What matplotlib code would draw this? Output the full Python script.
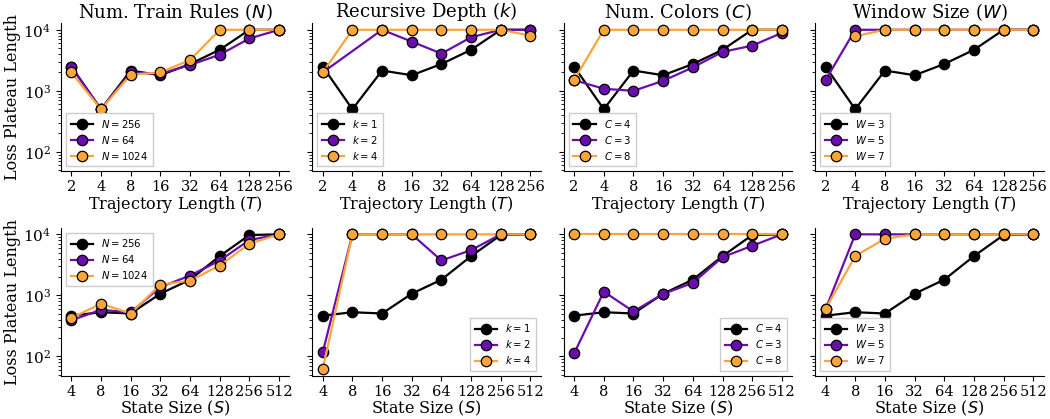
import matplotlib
matplotlib.use("Agg")
import matplotlib.pyplot as plt
import numpy as np

# ---------------- data ----------------
traj_labels = ["2", "4", "8", "16", "32", "64", "128", "256"]
state_labels = ["4", "8", "16", "32", "64", "128", "256", "512"]

# default configuration (N=256, k=1, C=4, W=3)
default_T = [2500, 500, 2150, 1800, 2750, 4700, 10000, 10000]
default_S = [465, 530, 505, 1065, 1810, 4400, 9750, 10000]

# Top row: vs trajectory length (None = no point)
N64_T = [2500, 500, 2000, 1900, 2650, 3900, 7200, 10000]
N1024_T = [2000, 500, 1840, 2000, 3200, 10000, 10000, 10000]
k2_T = [2000, None, 10000, 6400, 4070, 7550, 10000, 10000]
k4_T = [2000, 10000, 10000, 10000, 10000, 10000, 10000, 8050]
C3_T = [1500, 1080, 1000, 1460, 2420, 4340, 5500, 8900]
C8_T = [1500, 10000, 10000, 10000, 10000, 10000, 10000, 10000]
W5_T = [1500, 10000, 10000, 10000, 10000, 10000, 10000, 10000]
W7_T = [None, 7850, 10000, 10000, 10000, 10000, 10000, 10000]

# Bottom row: vs state size
N64_S = [390, 580, 525, 1370, 2110, 3720, 8070, 10000]
N1024_S = [425, 730, 505, 1500, 1745, 3080, 7020, 10000]
k2_S = [116, 10000, 10000, 10000, 3730, 5520, 10000, 10000]
k4_S = [62, 10000, 10000, 10000, 10000, 10000, 10000, 10000]
C3_S = [112, 1150, 545, 1060, 1600, 4230, 6500, 10000]
C8_S = [10000, 10000, 10000, 10000, 10000, 10000, 10000, 10000]
W5_S = [590, 10000, 10000, 10000, 10000, 10000, 10000, 10000]
W7_S = [596, 4400, 8490, 10000, 10000, 10000, 10000, 10000]

titles = [r"Num. Train Rules ($N$)", r"Recursive Depth ($k$)",
          r"Num. Colors ($C$)", r"Window Size ($W$)"]
legend_labels = [
    [r"$N = 256$", r"$N = 64$", r"$N = 1024$"],
    [r"$k = 1$", r"$k = 2$", r"$k = 4$"],
    [r"$C = 4$", r"$C = 3$", r"$C = 8$"],
    [r"$W = 3$", r"$W = 5$", r"$W = 7$"],
]
top_series = [
    [default_T, N64_T, N1024_T],
    [default_T, k2_T, k4_T],
    [default_T, C3_T, C8_T],
    [default_T, W5_T, W7_T],
]
bottom_series = [
    [default_S, N64_S, N1024_S],
    [default_S, k2_S, k4_S],
    [default_S, C3_S, C8_S],
    [default_S, W5_S, W7_S],
]
top_legend_loc = ["lower left", "lower left", "lower left", "lower left"]
bottom_legend_loc = ["upper left", "lower right", "lower right", "lower left"]

colors = ["#000000", "#6a0dad", "#f9a53a"]

# ---------------- plot ----------------
plt.rcParams["font.family"] = "DejaVu Serif"
plt.rcParams["mathtext.fontset"] = "dejavusans"

fig, axes = plt.subplots(2, 4, figsize=(10.5, 4.19), dpi=100, sharey=True)
fig.subplots_adjust(left=0.058, right=0.994, top=0.945, bottom=0.103,
                    wspace=0.1, hspace=0.38)


def draw(ax, series, labels, tick_labels, loc):
    for vals, lab, col in zip(series, labels, colors):
        xs = [i for i, v in enumerate(vals) if v is not None]
        ys = [v for v in vals if v is not None]
        ax.plot(xs, ys, "-o", color=col, markerfacecolor=col,
                markeredgecolor="black", markeredgewidth=0.9,
                markersize=7.5, linewidth=1.6, label=lab)
    ax.set_yscale("log")
    ax.set_xticks(range(len(tick_labels)))
    ax.set_xticklabels(tick_labels, fontsize=10.5)
    ax.tick_params(axis="y", labelsize=11)
    ax.tick_params(axis="x", pad=3)
    ax.spines["top"].set_visible(False)
    ax.spines["right"].set_visible(False)
    leg = ax.legend(loc=loc, prop={"family": "DejaVu Sans", "size": 7.3},
                    handlelength=2.2, borderpad=0.45, labelspacing=0.4,
                    fancybox=False, framealpha=1.0)
    leg.get_frame().set_edgecolor("#cccccc")


for j in range(4):
    ax = axes[0, j]
    draw(ax, top_series[j], legend_labels[j], traj_labels, top_legend_loc[j])
    ax.set_title(titles[j], fontsize=13, pad=3)
    ax.set_xlabel(r"Trajectory Length ($T$)", fontsize=11.5, labelpad=0)
    ax = axes[1, j]
    draw(ax, bottom_series[j], legend_labels[j], state_labels, bottom_legend_loc[j])
    ax.set_xlabel(r"State Size ($S$)", fontsize=11.5, labelpad=0)

axes[0, 0].set_ylabel("Loss Plateau Length", fontsize=11.5, labelpad=2)
axes[1, 0].set_ylabel("Loss Plateau Length", fontsize=11.5, labelpad=2)

fig.savefig("out.png", dpi=100)
